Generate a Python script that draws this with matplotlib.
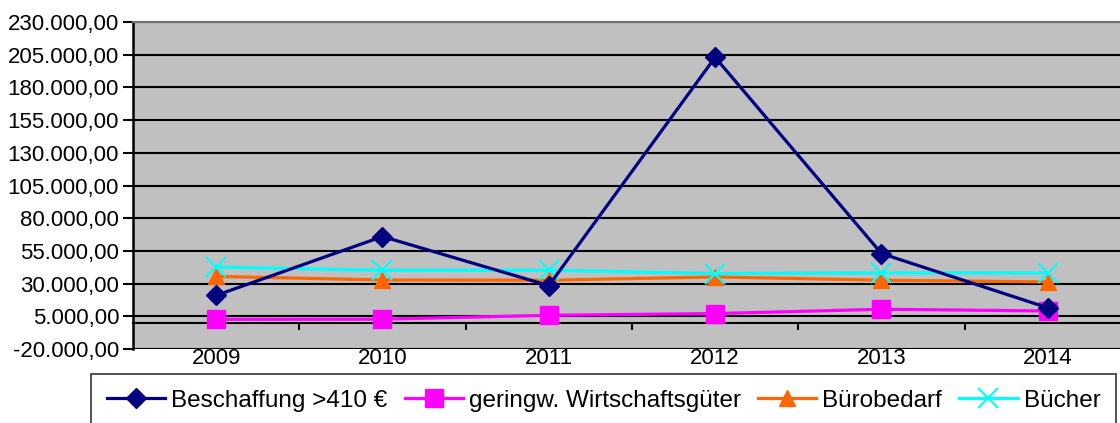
import matplotlib
matplotlib.use('Agg')
import matplotlib.pyplot as plt
from matplotlib.ticker import FuncFormatter

plt.rcParams['font.family'] = ['Liberation Sans', 'DejaVu Sans']

years = ['2009', '2010', '2011', '2012', '2013', '2014']
beschaffung = [21000, 66000, 28500, 203000, 53000, 11500]
geringw = [2700, 2800, 5800, 7100, 10400, 9100]
buerobedarf = [35500, 32800, 32600, 35100, 32600, 31300]
buecher = [42700, 40200, 40200, 37700, 38200, 38200]

fig = plt.figure(figsize=(11.2, 4.23), dpi=100)
ax = fig.add_axes([0.11875, 0.1749, 0.891, 0.7731])
ax.set_facecolor('#C0C0C0')

x = list(range(len(years)))
ax.plot(x, beschaffung, color='#000080', lw=2.3, marker='D', ms=10, label='Beschaffung >410 €', zorder=5)
ax.plot(x, geringw, color='#FF00FF', lw=2.3, marker='s', ms=13, label='geringw. Wirtschaftsgüter', zorder=4)
ax.plot(x, buerobedarf, color='#FF6600', lw=2.3, marker='^', ms=11, label='Bürobedarf', zorder=4)
ax.plot(x, buecher, color='#00FFFF', lw=2.3, marker='x', ms=14, mew=1.5, label='Bücher', zorder=4)

ax.set_ylim(-20000, 230000)
ax.set_xlim(-0.5, 5.5)
ax.set_yticks(range(-20000, 230001, 25000))
ax.yaxis.set_major_formatter(FuncFormatter(
    lambda v, p: f'{v:,.2f}'.replace(',', 'X').replace('.', ',').replace('X', '.')))
ax.tick_params(axis='y', labelsize=16, length=7, width=1.5, direction='out', color='black', pad=3)
ax.grid(axis='y', color='black', lw=1.5)
ax.set_axisbelow(True)

ax.spines['right'].set_visible(False)
ax.spines['top'].set_color('#707070')
ax.spines['top'].set_linewidth(1.5)
ax.spines['left'].set_linewidth(1.8)
ax.spines['bottom'].set_position(('data', 0))
ax.spines['bottom'].set_linewidth(1.5)
ax.set_xticks([i + 0.5 for i in range(len(years) - 1)])
ax.set_xticklabels([])
ax.tick_params(axis='x', length=5, width=1.5, direction='out')

sec = ax.secondary_xaxis(0.0)
sec.set_xticks(x)
sec.set_xticklabels(years)
sec.tick_params(length=0, labelsize=16, pad=-1)
sec.spines['bottom'].set_visible(False)

leg = fig.legend(loc='upper center', bbox_to_anchor=(0.539, 0.116), ncol=4, fontsize=17.5,
                 frameon=True, fancybox=False, edgecolor='black', numpoints=1,
                 handlelength=2.4, handletextpad=0.25, columnspacing=0.7,
                 borderpad=0.65, borderaxespad=0)
leg.get_frame().set_linewidth(1.2)

fig.savefig('out.png', dpi=100)
